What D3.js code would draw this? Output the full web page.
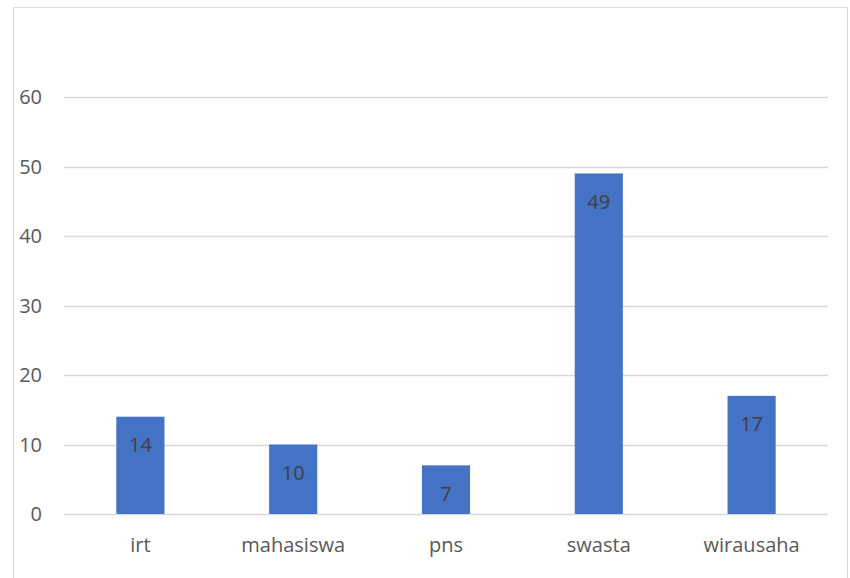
<!DOCTYPE html>
<html>
<head>
<meta charset="utf-8">
<script src="https://cdn.jsdelivr.net/npm/d3@7"></script>
<style>
  body { margin: 0; background: #fff; }
  text { font-family: "Open Sans", "Noto Sans", sans-serif; }
</style>
</head>
<body>
<svg id="chart" width="850" height="578"></svg>
<script>
// Data
const categories = ["irt", "mahasiswa", "pns", "swasta", "wirausaha"];
const values = [14, 10, 7, 49, 17];
const yTicks = [0, 10, 20, 30, 40, 50, 60];

const svg = d3.select("#chart");
const margin = { left: 64, right: 22, top: 97, bottom: 64 };
const width = 850, height = 578;

// chart border
svg.append("rect")
  .attr("x", 13.5).attr("y", 7.5)
  .attr("width", 834).attr("height", 580)
  .attr("fill", "none")
  .attr("stroke", "#d9d9d9");

const x = d3.scaleBand()
  .domain(categories)
  .range([margin.left, width - margin.right])
  .paddingInner(0.685)
  .paddingOuter(0.3425);

const y = d3.scaleLinear()
  .domain([0, 60])
  .range([height - margin.bottom, margin.top]);

// gridlines
svg.append("g")
  .selectAll("line")
  .data(yTicks)
  .join("line")
  .attr("x1", margin.left)
  .attr("x2", width - margin.right)
  .attr("y1", d => Math.round(y(d)) + 0.5)
  .attr("y2", d => Math.round(y(d)) + 0.5)
  .attr("stroke", "#d9d9d9")
  .attr("stroke-width", 1.3);

// y labels
svg.append("g")
  .selectAll("text")
  .data(yTicks)
  .join("text")
  .attr("x", 42)
  .attr("y", d => y(d))
  .attr("dy", "0.36em")
  .attr("text-anchor", "end")
  .attr("fill", "#595959")
  .attr("font-size", 20)
  .text(d => d);

// bars
svg.append("g")
  .selectAll("rect")
  .data(values)
  .join("rect")
  .attr("x", (d, i) => x(categories[i]))
  .attr("width", x.bandwidth())
  .attr("y", d => y(d))
  .attr("height", d => y(0) - y(d))
  .attr("fill", "#4472c4");

// value labels
svg.append("g")
  .selectAll("text")
  .data(values)
  .join("text")
  .attr("x", (d, i) => x(categories[i]) + x.bandwidth() / 2)
  .attr("y", d => y(d) + 28)
  .attr("dy", "0.36em")
  .attr("text-anchor", "middle")
  .attr("fill", "#404040")
  .attr("font-size", 20)
  .text(d => d);

// category labels
svg.append("g")
  .selectAll("text")
  .data(categories)
  .join("text")
  .attr("x", d => x(d) + x.bandwidth() / 2)
  .attr("y", 545)
  .attr("dy", "0.36em")
  .attr("text-anchor", "middle")
  .attr("fill", "#595959")
  .attr("font-size", 20)
  .text(d => d);
</script>
</body>
</html>
